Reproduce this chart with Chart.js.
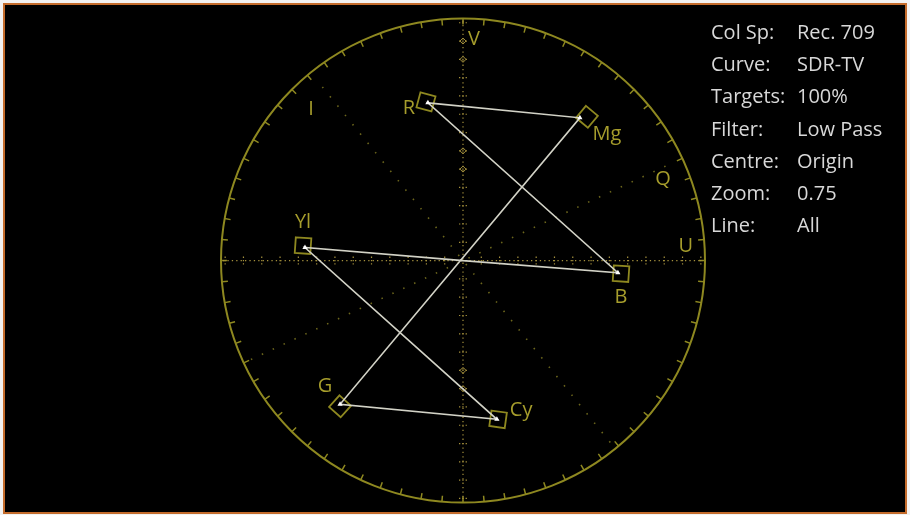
<!DOCTYPE html>
<html>
<head>
<meta charset="utf-8">
<title>Vectorscope</title>
<script src="https://cdn.jsdelivr.net/npm/chart.js@4.4.1/dist/chart.umd.min.js"></script>
<style>
	html, body { margin: 0; padding: 0; background: #f2f2f2; }
	#wrap { position: relative; width: 910px; height: 515px; }
	#scope { position: absolute; left: 0; top: 0; }
	#info { position: absolute; left: 711px; top: 16px; font-family: 'Open Sans', sans-serif; font-size: 20px; color: #d8d8d8; line-height: 32.2px; border-collapse: collapse; }
	#info td { padding: 0; white-space: nowrap; }
	#info td.k { width: 86px; }
</style>
</head>
<body>
<div id="wrap">
	<canvas id="scope" width="910" height="515"></canvas>
	<table id="info"></table>
</div>
<script>
(function () {
	'use strict';

	// Cílové body barevných pruhů (U = vodorovně, V = svisle, 1 = poloměr kruhu).
	var targetNames = ['R', 'Mg', 'B', 'Cy', 'G', 'Yl'];
	var targetU     = [-0.153, 0.512, 0.653, 0.145, -0.508, -0.661];
	var targetV     = [0.657, 0.595, -0.054, -0.657, -0.603, 0.062];

	// Stopa signálu: střed -> Yl -> Cy -> G -> Mg -> R -> B -> střed.
	var traceNames = ['0', 'Yl', 'Cy', 'G', 'Mg', 'R', 'B', '0'];
	var traceU     = [0, -0.653, 0.140, -0.508, 0.483, -0.145, 0.640, 0];
	var traceV     = [0, 0.054, -0.657, -0.595, 0.591, 0.653, -0.050, 0];

	var infoLabels = ['Col Sp:', 'Curve:', 'Targets:', 'Filter:', 'Centre:', 'Zoom:', 'Line:'];
	var infoValues = ['Rec. 709', 'SDR-TV', '100%', 'Low Pass', 'Origin', '0.75', 'All'];

	var axisNames = ['V', 'I', 'Q', 'U'];

	// --- styl ---
	var OLIVE   = '#8e8820';
	var LABEL   = '#a69d2c';
	var DOTS    = '#a4903c';
	var DIAG    = '#6c661c';
	var TRACE   = '#d2d2c6';

	var targetRot = { R: 15, Mg: 40, B: 4, Cy: 8, G: 42, Yl: 4 };
	var targetLabelOff = {
		R:  [-17, 6],
		Mg: [20, 17],
		B:  [0, 24],
		Cy: [23, -9],
		G:  [-15, -20],
		Yl: [0, -23]
	};
	// úhel (°), poloměr, posun v px
	var axisLabelPos = {
		V: [90, 0.915, 11, 0],
		I: [135.2, 0.885, 0, 0],
		Q: [22, 0.892, 0, 0],
		U: [0, 0.921, 0, -14]
	};
	var diagAngles = [129, 25];
	var axisTickStep = 0.0756;

	// info tabulka
	var tbl = document.getElementById('info');
	infoLabels.forEach(function (k, i) {
		var tr = document.createElement('tr');
		tr.innerHTML = '<td class="k">' + k + '</td><td>' + infoValues[i] + '</td>';
		tbl.appendChild(tr);
	});

	function pts(us, vs) {
		return us.map(function (u, i) { return { x: u, y: vs[i] }; });
	}

	var scopeBg = {
		id: 'scopeBg',
		beforeDraw: function (chart) {
			var c = chart.ctx;
			c.save();
			c.fillStyle = '#000';
			c.fillRect(4, 4, 902, 509);
			c.strokeStyle = '#c46c2c';
			c.lineWidth = 2;
			c.strokeRect(4, 4, 902, 509);
			c.restore();
		}
	};

	var graticule = {
		id: 'graticule',
		beforeDatasetsDraw: function (chart) {
			var c  = chart.ctx;
			var xs = chart.scales.x;
			var ys = chart.scales.y;
			var cx = xs.getPixelForValue(0);
			var cy = ys.getPixelForValue(0);
			var R  = xs.getPixelForValue(1) - cx;
			var i, a, p;

			c.save();

			// kruh
			c.strokeStyle = OLIVE;
			c.lineWidth = 2;
			c.beginPath();
			c.arc(cx, cy, R, 0, Math.PI * 2);
			c.stroke();

			// rysky po obvodu
			c.lineWidth = 1.5;
			c.beginPath();
			for (i = 0; i < 72; i++) {
				a = i * Math.PI / 36;
				c.moveTo(cx + Math.cos(a) * R, cy - Math.sin(a) * R);
				c.lineTo(cx + Math.cos(a) * (R - 6), cy - Math.sin(a) * (R - 6));
			}
			c.stroke();

			// tečkované osy U a V
			c.strokeStyle = DOTS;
			c.lineWidth = 1.2;
			c.setLineDash([1.3, 3.1]);
			c.beginPath();
			c.moveTo(cx, cy - R + 2);
			c.lineTo(cx, cy + R - 2);
			c.moveTo(cx - R + 2, cy);
			c.lineTo(cx + R - 2, cy);
			c.stroke();

			// příčné značky na osách
			c.setLineDash([1.3, 2]);
			c.beginPath();
			var step = xs.getPixelForValue(axisTickStep) - cx;
			for (i = -13; i <= 13; i++) {
				if (i === 0) continue;
				p = i * step;
				c.moveTo(cx - 4, cy + p);
				c.lineTo(cx + 5, cy + p);
				c.moveTo(cx + p, cy - 4);
				c.lineTo(cx + p, cy + 5);
			}
			c.stroke();

			// diamanty na svislé ose
			c.setLineDash([]);
			c.lineWidth = 1;
			[-12, -11, -6, -5, 6, 7].forEach(function (k) {
				var yy = cy + k * step;
				c.beginPath();
				c.moveTo(cx, yy - 3);
				c.lineTo(cx + 3, yy);
				c.lineTo(cx, yy + 3);
				c.lineTo(cx - 3, yy);
				c.closePath();
				c.stroke();
			});

			// osy I a Q
			c.strokeStyle = DIAG;
			c.lineWidth = 1.6;
			c.setLineDash([1.5, 10.5]);
			diagAngles.forEach(function (deg) {
				var r = deg * Math.PI / 180;
				c.beginPath();
				c.moveTo(cx - Math.cos(r) * (R - 8), cy + Math.sin(r) * (R - 8));
				c.lineTo(cx + Math.cos(r) * (R - 8), cy - Math.sin(r) * (R - 8));
				c.stroke();
			});
			c.setLineDash([]);

			// popisky os
			c.fillStyle = LABEL;
			c.font = '20px "Open Sans", sans-serif';
			c.textAlign = 'center';
			c.textBaseline = 'middle';
			axisNames.forEach(function (n) {
				var q = axisLabelPos[n];
				var r = q[0] * Math.PI / 180;
				c.fillText(n, cx + Math.cos(r) * q[1] * R + q[2], cy - Math.sin(r) * q[1] * R + q[3]);
			});

			// popisky cílů
			targetNames.forEach(function (n, k) {
				var o = targetLabelOff[n];
				c.fillText(n, xs.getPixelForValue(targetU[k]) + o[0], ys.getPixelForValue(targetV[k]) + o[1]);
			});

			c.restore();
		}
	};

	new Chart(document.getElementById('scope'), {
		type: 'scatter',
		data: {
			datasets: [
				{
					label: 'Trace',
					type: 'line',
					data: pts(traceU, traceV),
					borderColor: TRACE,
					borderWidth: 1.6,
					showLine: true,
					tension: 0,
					pointStyle: 'triangle',
					pointRadius: traceNames.map(function (n) { return n === '0' ? 0 : 3; }),
					pointBackgroundColor: '#ffffff',
					pointBorderWidth: 0,
					order: 1
				},
				{
					label: 'Targets',
					data: pts(targetU, targetV),
					pointStyle: 'rect',
					pointRadius: 11,
					pointRotation: targetNames.map(function (n) { return targetRot[n]; }),
					borderColor: OLIVE,
					backgroundColor: 'rgba(0,0,0,0)',
					borderWidth: 1.8,
					order: 2
				}
			]
		},
		options: {
			responsive: false,
			animation: false,
			layout: { padding: { left: 221, right: 205, top: 19, bottom: 12 } },
			plugins: {
				legend: { display: false },
				tooltip: { enabled: false }
			},
			scales: {
				x: { type: 'linear', min: -1, max: 1, display: false },
				y: { type: 'linear', min: -1, max: 1, display: false }
			}
		},
		plugins: [scopeBg, graticule]
	});

}());
</script>
</body>
</html>
